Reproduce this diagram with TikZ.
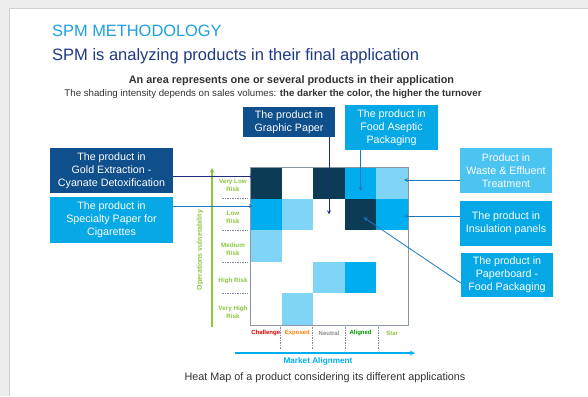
\documentclass[tikz,border=0pt]{standalone}
\usepackage{fontspec}
\setmainfont{Liberation Sans}
\usetikzlibrary{shadows}

\begin{document}
\begin{tikzpicture}[x=1pt,y=-1pt,
  boxnode/.style={text=white,align=center,inner sep=0pt,font=\fontsize{10.7}{13}\selectfont},
  cellnode/.style={minimum size=31.6pt,inner sep=0pt,outer sep=0pt},
  risknode/.style={text=riskgreen,align=center,font=\bfseries\fontsize{6.3}{8}\selectfont},
  alignnode/.style={font=\bfseries\fontsize{6}{7}\selectfont},
  sepline/.style={dashed,draw=sepgray,line width=0.5pt,dash pattern=on 1.5pt off 1pt},
  navyarrow/.style={-stealth,draw=arrownavy,line width=0.8pt},
  bluearrow/.style={-stealth,draw=arrowblue,line width=0.8pt}]
\definecolor{deep}{HTML}{0C3C55}
\definecolor{mid}{HTML}{00AEEF}
\definecolor{pale}{HTML}{80D5F7}
\definecolor{boxdark}{HTML}{0F4F8C}
\definecolor{boxbright}{HTML}{06A9E6}
\definecolor{boxsoft}{HTML}{4CC4F1}
\definecolor{titleblue}{HTML}{1BA1E2}
\definecolor{titlenavy}{HTML}{1F3A84}
\definecolor{riskgreen}{HTML}{8CC63F}
\definecolor{sepgray}{HTML}{7C86B0}
\definecolor{arrownavy}{HTML}{1E2F78}
\definecolor{arrowblue}{HTML}{1A78C2}
\definecolor{framegray}{HTML}{8D96A8}
\useasboundingbox (0,0) rectangle (588,396);
\fill[black!7] (0,0) rectangle (588,396);
\fill[white] (9,8) rectangle (588,396);
\draw[black!18,line width=0.8pt] (9,396) -- (9,8) -- (588,8);

% titles
\node[anchor=base west,inner sep=0pt,text=titleblue,font=\fontsize{16.4}{18}\selectfont] (title) at (52,37) {SPM METHODOLOGY};
\node[anchor=base west,inner sep=0pt,text=titlenavy,font=\fontsize{16.5}{20}\selectfont] (subtitle) at (52,60) {SPM is analyzing products in their final application};
\node[anchor=base,inner sep=0pt,text=black!80,font=\bfseries\fontsize{10.9}{12}\selectfont] (note1) at (291.5,83.5) {An area represents one or several products in their application};
\node[anchor=base,inner sep=0pt,text=black!80,font=\fontsize{9.7}{12}\selectfont] (note2) at (273,96) {The shading intensity depends on sales volumes: \textbf{the darker the color, the higher the turnover}};

% heat map
\node[draw=framegray,fill=white,minimum size=158pt,inner sep=0pt,
  drop shadow={shadow xshift=1pt,shadow yshift=-1pt,opacity=.35}] (frame) at (329,246) {};
\foreach \r/\rowcols in {1/{deep,white,deep,mid,pale},2/{mid,pale,white,deep,mid},
  3/{pale,white,white,white,white},4/{white,white,pale,mid,white},5/{white,pale,white,white,white}}
  \foreach \crlr [count=\c] in \rowcols
  {  \node[cellnode,fill=\crlr] (c\r\c) at (250+31.6*\c-15.8,167+31.6*\r-15.8) {};}
\draw[framegray,line width=0.6pt] (frame.north west) rectangle (frame.south east);

% vertical axis
\foreach \txt [count=\r] in {Very Low\\Risk,Low\\Risk,Medium\\Risk,High Risk,Very High\\Risk}
  {  \node[risknode] (rl\r) at (233,170+31.6*\r-15.8) {\txt};}
\foreach \y in {198.6,230.2,261.8,293.4}
  \draw[sepline] (222,\y) -- (248,\y);
\coordinate (vbot) at (212,327);
\coordinate (vtop) at (212,168);
\draw[-stealth,riskgreen,line width=1.1pt] (vbot) -- (vtop);
\node[rotate=90,text=riskgreen,font=\bfseries\fontsize{7}{8}\selectfont] (vlabel) at (200,250) {Operations vulnerability};

% horizontal axis
\foreach \txt/\crlr [count=\c] in {Challenge/red!85!black,Exposed/orange,Neutral/black!45,Aligned/green!60!black,Star/riskgreen}
  {  \node[alignnode,text=\crlr] (al\c) at (250+31.6*\c-15.8,333) {\txt};}
\foreach \x in {280,312.5,345,378}
  \draw[sepline] (\x,327) -- (\x,349);
\coordinate (hleft) at (235,353);
\coordinate (hright) at (415,353);
\draw[-stealth,mid,line width=1.3pt] (hleft) -- (hright);
\node[text=mid,font=\bfseries\fontsize{8.2}{9}\selectfont] (hlabel) at (318,361.5) {Market Alignment};
\node[text=black!80,font=\fontsize{10.8}{12}\selectfont] (caption) at (325,378) {Heat Map of a product considering its different applications};

% product boxes
\node[boxnode,fill=boxdark,minimum width=123pt,minimum height=45pt] (gold) at (111.5,170.5) {The product in\\Gold Extraction -\\Cyanate Detoxification};
\node[boxnode,fill=boxbright,minimum width=123pt,minimum height=46pt] (cig) at (111.5,220) {The product in\\Specialty Paper for\\Cigarettes};
\node[boxnode,fill=boxdark,minimum width=92pt,minimum height=30pt] (graphic) at (289,122) {The product in\\Graphic Paper};
\node[boxnode,fill=boxbright,minimum width=93pt,minimum height=45pt] (aseptic) at (391.5,127.5) {The product in\\Food Aseptic\\Packaging};
\node[boxnode,fill=boxsoft,minimum width=92pt,minimum height=45pt] (waste) at (506,170.5) {Product in\\Waste \& Effluent\\Treatment};
\node[boxnode,fill=boxbright,minimum width=92pt,minimum height=45pt] (insul) at (506,223.5) {The product in\\Insulation panels};
\node[boxnode,fill=boxbright,minimum width=92pt,minimum height=44pt] (board) at (507,275) {The product in\\Paperboard -\\Food Packaging};

% arrows
\draw[navyarrow] (gold.east |- 0,176) -- ([xshift=4pt]c11.west |- 0,176);
\draw[bluearrow] (cig.east |- 0,206) -- ([xshift=3pt]c21.west |- 0,206);
\draw[navyarrow] (graphic.south -| c23) -- (c23.center);
\draw[bluearrow] (aseptic.south -| c14) -- ([yshift=-8pt]c14.center);
\draw[bluearrow] (waste.west |- 0,180) -- ([xshift=-4pt]c15.east |- 0,180);
\draw[bluearrow] (insul.west |- 0,216) -- ([xshift=-4pt]c25.east |- 0,216);
\draw[bluearrow] ([yshift=-8pt]board.west) -- ([xshift=3pt,yshift=-3pt]c24.center);
\end{tikzpicture}
\end{document}
